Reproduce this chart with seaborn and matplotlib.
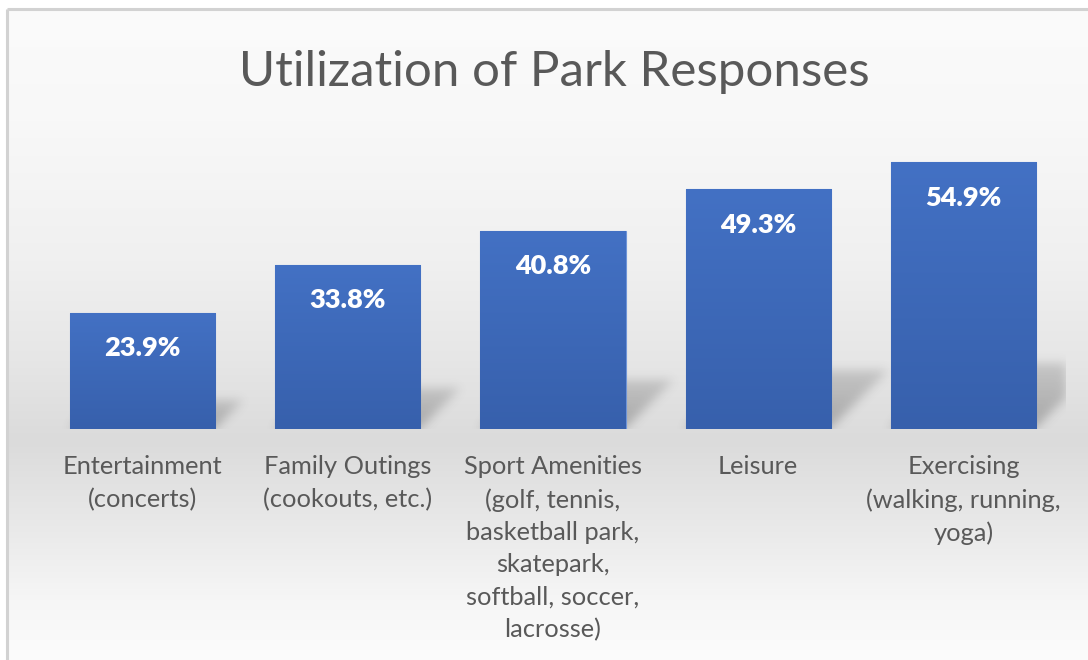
import numpy as np
import pandas as pd
import matplotlib
matplotlib.use("Agg")
import matplotlib.pyplot as plt
import seaborn as sns
from matplotlib.patches import Rectangle

# ---- data ----
categories = [
    "Entertainment\n(concerts)",
    "Family Outings\n(cookouts, etc.)",
    "Sport Amenities\n(golf, tennis,\nbasketball park,\nskatepark,\nsoftball, soccer,\nlacrosse)",
    "Leisure",
    "Exercising\n(walking, running,\nyoga)",
]
values = [23.9, 33.8, 40.8, 49.3, 54.9]
title = "Utilization of Park Responses"

# ---- style ----
sns.set_theme(style="white")
plt.rcParams["font.family"] = ["Lato", "DejaVu Sans"]

W, H = 1088, 660
fig = plt.figure(figsize=(W / 100, H / 100), dpi=100)
fig.patch.set_facecolor("white")

# soft vertical background gradient of the chart area
bg = fig.add_axes([0, 0, 1, 1], zorder=-10)
stops_y = np.array([0, 10, 120, 260, 360, 440, 520, 600, 660])
stops_g = np.array([252, 251, 248, 240, 230, 219, 232, 246, 252]) / 255.0
yy = np.arange(H)
g = np.interp(yy, stops_y, stops_g)
grad = np.repeat(g[:, None], W, axis=1)
bg.imshow(np.dstack([grad, grad, grad]), aspect="auto", extent=[0, W, H, 0],
          interpolation="bilinear")
bg.set_xlim(0, W)
bg.set_ylim(H, 0)
bg.axis("off")
# white margin and thin grey frame around the chart area
bg.add_patch(Rectangle((0, 0), W, 9, facecolor="white", edgecolor="none"))
bg.add_patch(Rectangle((0, 0), 7, H, facecolor="white", edgecolor="none"))
bg.plot([7, W], [9, 9], color="#d2d2d2", lw=2.2, solid_capstyle="butt")
bg.plot([7, 7], [9, H], color="#d2d2d2", lw=2.2, solid_capstyle="butt")

# ---- main axes ----
ax_left, ax_right = 40, 1066
ax_base, ymax = 429, 60
px_per_unit = 4.86
ax_top = ax_base - ymax * px_per_unit
ax = fig.add_axes([ax_left / W, 1 - ax_base / H, (ax_right - ax_left) / W,
                   (ax_base - ax_top) / H])
ax.patch.set_alpha(0)

df = pd.DataFrame({"category": categories, "value": values})
sns.barplot(data=df, x="category", y="value", color="#4270c3", width=0.707,
            saturation=1, ax=ax, zorder=3)
ax.set_xlim(-0.5, len(categories) - 0.5)
ax.set_ylim(0, ymax)
ax.set_xlabel("")
ax.set_ylabel("")
ax.set_yticks([])
for s in ax.spines.values():
    s.set_visible(False)

# gradient fill inside each bar
top_c = np.array([0x43, 0x71, 0xc4]) / 255.0
bot_c = np.array([0x37, 0x60, 0xac]) / 255.0
t = np.linspace(0, 1, 256)[:, None]
bar_grad = (top_c[None, :] * (1 - t) + bot_c[None, :] * t)[:, None, :]
patches = list(ax.patches)
for p in patches:
    p.set_edgecolor("#6f95d8")
    p.set_linewidth(0.8)
    x0, w, h = p.get_x(), p.get_width(), p.get_height()
    im = ax.imshow(bar_grad, extent=[x0, x0 + w, 0, h], aspect="auto",
                   zorder=3.5, interpolation="bilinear")
    im.set_clip_path(p)

# perspective drop shadow behind each bar (computed in pixel space)
fig.canvas.draw()
aw = ax_right - ax_left
ah = int(round(ax_base - ax_top))
alpha = np.zeros((ah, aw))
to_px = ax.transData
for p in patches:
    x0, w, h = p.get_x(), p.get_width(), p.get_height()
    (px0, py0), (px1, py1) = to_px.transform([(x0, 0), (x0 + w, h)])
    px0 -= ax_left
    px1 -= ax_left
    hbar = py1 - py0
    hs = 0.25 * hbar
    for r in range(int(hs)):
        row = ah - 1 - r
        a = 0.34 * (1 - 0.45 * r / hs)
        xa, xb = int(px0 + r), int(px1 + r)
        xa, xb = max(xa, 0), min(xb, aw)
        if xb > xa:
            alpha[row, xa:xb] = np.maximum(alpha[row, xa:xb], a)

def blur(img, sigma):
    k = np.arange(-3 * sigma, 3 * sigma + 1)
    ker = np.exp(-k ** 2 / (2 * sigma ** 2))
    ker /= ker.sum()
    pad = len(k)
    out = np.pad(img, pad, mode="constant")
    out = np.apply_along_axis(lambda v: np.convolve(v, ker, mode="same"), 0, out)
    out = np.apply_along_axis(lambda v: np.convolve(v, ker, mode="same"), 1, out)
    return out[pad:-pad, pad:-pad]

alpha = blur(alpha, 5)
shadow = np.zeros((ah, aw, 4))
shadow[..., :3] = 0.25
shadow[..., 3] = alpha
ax.imshow(shadow, extent=[-0.5, len(categories) - 0.5, 0, ymax], aspect="auto",
          zorder=1, interpolation="bilinear")
ax.set_xlim(-0.5, len(categories) - 0.5)
ax.set_ylim(0, ymax)

# value labels inside the top of each bar
for p, v in zip(patches, values):
    ax.annotate(f"{v:.1f}%", (p.get_x() + p.get_width() / 2, p.get_height()),
                xytext=(0, -25.5), textcoords="offset points",
                ha="center", va="center", color="white", fontsize=19.5,
                fontweight="heavy", zorder=5)

# category labels
ax.set_xticks(range(len(categories)))
ax.set_xticklabels(categories, fontsize=18.3, color="#595959", linespacing=1.49)
ax.tick_params(axis="x", length=0, pad=19)

fig.text(554 / W, 1 - 72 / H, title, ha="center", va="center",
         fontsize=35.5, color="#595959")

fig.savefig("out.png", dpi=100)
